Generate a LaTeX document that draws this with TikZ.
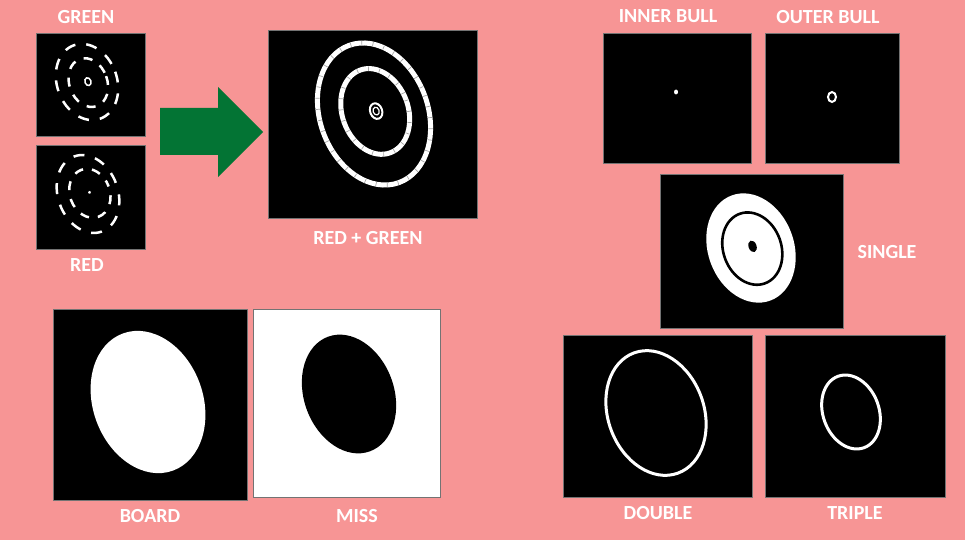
\documentclass[tikz,border=0pt]{standalone}
\usepackage{fontspec}
\setmainfont{Carlito}

\definecolor{bgpink}{RGB}{247,149,149}
\definecolor{arrowgreen}{RGB}{3,116,52}

\tikzset{
  panel/.style={fill=black, draw=black!55, line width=0.6pt},
  lbl/.style={text=white, font=\fontsize{20}{24}\selectfont\bfseries, inner sep=0pt},
  ring/.style={draw=white, line width=2.5pt},
  seam/.style={draw=black!35, line width=4.4pt, dash pattern=on 0.7pt off 10.5pt},
}

\begin{document}
\begin{tikzpicture}[x=1pt, y=-1pt]
  \fill[bgpink] (0,0) rectangle (965,540);
  \useasboundingbox (0,0) rectangle (965,540);

  % green mask
  \draw[panel] (36,33) rectangle (145,136);
  \begin{scope}[shift={(87,82)}, rotate=20]
    \draw[ring, dash pattern=on 11pt off 11pt] (0,0) ellipse [x radius=30, y radius=39];
    \draw[ring, dash pattern=on 9pt off 9pt] (1,1) ellipse [x radius=19, y radius=25];
    \draw[white, line width=1.5pt] (1,0) ellipse [x radius=3, y radius=4];
  \end{scope}
  \node[lbl] (green) at (86,17) {GREEN};

  % red mask
  \draw[panel] (36,145) rectangle (145,249);
  \begin{scope}[shift={(88,194)}, rotate=20]
    \draw[ring, dash pattern=on 11pt off 11pt, dash phase=11pt] (0,0) ellipse [x radius=30, y radius=40];
    \draw[ring, dash pattern=on 9pt off 9pt, dash phase=9pt] (2,0) ellipse [x radius=20, y radius=25];
    \fill[white] (2,-1) circle [radius=1.6];
  \end{scope}
  \node[lbl] (red) at (87,265) {RED};

  % arrow
  \fill[arrowgreen] (160,108) -- (218,108) -- (218,87) -- (263,132)
    -- (218,177) -- (218,155) -- (160,155) -- cycle;

  % combined
  \draw[panel] (268,30) rectangle (477,218);
  \begin{scope}[shift={(374,114)}, rotate=20]
    \draw[ring, line width=5pt] (0,0) ellipse [x radius=54, y radius=73];
    \draw[seam] (0,0) ellipse [x radius=54, y radius=73];
    \draw[ring, line width=5pt] (2,-2) ellipse [x radius=33, y radius=44];
    \draw[seam] (2,-2) ellipse [x radius=33, y radius=44];
    \draw[white, line width=2pt] (3,-2) ellipse [x radius=6, y radius=8];
    \draw[white, line width=1.2pt] (3,-2) ellipse [x radius=3, y radius=4];
  \end{scope}
  \node[lbl] (redgreen) at (368,238) {RED + GREEN};

  % board and miss
  \draw[panel] (53,309) rectangle (247,500);
  \fill[white, rotate around={20:(148,402)}] (148,402) ellipse [x radius=55, y radius=73];
  \node[lbl] (board) at (150,516) {BOARD};

  \draw[panel, fill=white] (253,309) rectangle (440,497);
  \fill[black, rotate around={20:(349,394)}] (349,394) ellipse [x radius=45, y radius=61];
  \node[lbl] (miss) at (357,516) {MISS};

  % bulls
  \draw[panel] (603,33) rectangle (751,163);
  \fill[white] (676,92) ellipse [x radius=2, y radius=2.5];
  \node[lbl] (inner) at (668,16) {INNER BULL};

  \draw[panel] (765,33) rectangle (899,163);
  \draw[white, line width=2pt] (832,97) ellipse [x radius=4, y radius=5];
  \node[lbl] (outer) at (828,17) {OUTER BULL};

  % single
  \draw[panel] (660,174) rectangle (843,328);
  \begin{scope}[shift={(751,248)}, rotate=20]
    \fill[white] (0,0) ellipse [x radius=43, y radius=56];
    \draw[black, line width=2.6pt] (1,1) ellipse [x radius=29, y radius=37];
    \fill[black] (2,-1) ellipse [x radius=4, y radius=6];
  \end{scope}
  \node[lbl] (single) at (887,252) {SINGLE};

  % double and triple
  \draw[panel] (563,335) rectangle (752,497);
  \draw[white, line width=3pt, rotate around={20:(656,413)}] (656,413) ellipse [x radius=48, y radius=64];
  \node[lbl] (double) at (658,513) {DOUBLE};

  \draw[panel] (765,335) rectangle (945,497);
  \draw[white, line width=3pt, rotate around={20:(851,412)}] (851,412) ellipse [x radius=28, y radius=38];
  \node[lbl] (triple) at (855,513) {TRIPLE};
\end{tikzpicture}
\end{document}
